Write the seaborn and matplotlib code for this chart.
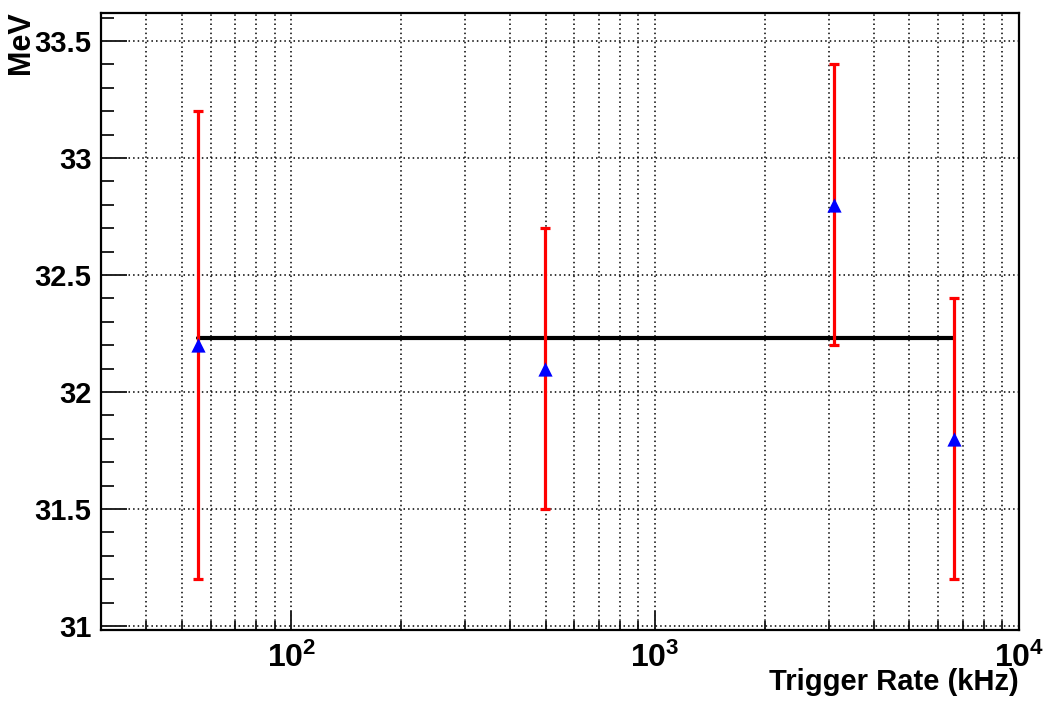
import matplotlib
matplotlib.use("Agg")
import matplotlib.pyplot as plt
import matplotlib.ticker as mticker
import seaborn as sns
import numpy as np
import pandas as pd

# Data
rates = [55.5, 497.0, 3110.0, 6640.0]          # kHz
energies = [32.2, 32.1, 32.8, 31.8]            # MeV
errors = [1.0, 0.6, 0.6, 0.6]                  # MeV
fit_value = 32.23
xlim = (30.0, 1.0e4)
ylim = (30.983, 33.62)
xlabel = "Trigger Rate (kHz)"
ylabel = "MeV"

sns.set_style("white")
plt.rcParams['font.family'] = ['Liberation Sans', 'DejaVu Sans']
plt.rcParams['font.weight'] = 'bold'
plt.rcParams['mathtext.fontset'] = 'custom'
plt.rcParams['mathtext.bf'] = 'Liberation Sans:bold'
plt.rcParams['mathtext.rm'] = 'Liberation Sans:bold'
plt.rcParams['text.color'] = 'black'
plt.rcParams['axes.labelcolor'] = 'black'
plt.rcParams['xtick.color'] = 'black'
plt.rcParams['ytick.color'] = 'black'

df = pd.DataFrame({"rate": rates, "energy": energies, "err": errors})
fit_df = pd.DataFrame({"rate": [rates[0], rates[-1]], "energy": [fit_value, fit_value]})

fig = plt.figure(figsize=(10.53, 7.02), dpi=100)
ax = fig.add_axes([101/1053, 1 - 630/702, (1019-101)/1053, (630-13)/702])

ax.set_xscale('log')
ax.set_xlim(*xlim)
ax.set_ylim(*ylim)

ax.xaxis.set_major_locator(mticker.LogLocator(base=10, numticks=10))
ax.xaxis.set_minor_locator(mticker.LogLocator(base=10, subs=np.arange(2, 10), numticks=20))
ax.xaxis.set_major_formatter(mticker.FuncFormatter(lambda v, p: r'$\mathbf{10^{%d}}$' % int(round(np.log10(v)))))
ax.xaxis.set_minor_formatter(mticker.NullFormatter())
ax.yaxis.set_major_locator(mticker.MultipleLocator(0.5))
ax.yaxis.set_minor_locator(mticker.MultipleLocator(0.1))
ax.yaxis.set_major_formatter(mticker.FuncFormatter(lambda v, p: ('%g' % round(v, 2))))

ax.grid(True, which='major', axis='both', color='black', linestyle=(0, (1, 2)), linewidth=1.1)
ax.grid(True, which='minor', axis='x', color='black', linestyle=(0, (1, 2)), linewidth=1.1)
ax.set_axisbelow(True)

# fit line
sns.lineplot(data=fit_df, x="rate", y="energy", ax=ax, color='black', linewidth=3, zorder=3)

# error bars
ax.errorbar(df["rate"], df["energy"], yerr=df["err"], fmt='none', ecolor='red',
            elinewidth=2.3, capsize=3.5, capthick=2.3, zorder=4)

# markers
sns.scatterplot(data=df, x="rate", y="energy", ax=ax, marker='^', s=105, color='blue',
                edgecolor='blue', linewidth=0, zorder=5)

for s in ax.spines.values():
    s.set_color('black')
    s.set_linewidth(1.6)

ax.tick_params(axis='both', which='both', direction='in', top=False, right=False,
               left=True, bottom=True, color='#222222', labelcolor='black', width=1.4)
ax.tick_params(axis='y', which='major', length=19, labelsize=21, pad=7)
ax.tick_params(axis='y', which='minor', length=9.5)
ax.tick_params(axis='x', which='major', length=14, labelsize=23, pad=9)
ax.tick_params(axis='x', which='minor', length=6.5)

for lbl in ax.get_yticklabels() + ax.get_xticklabels():
    lbl.set_fontweight('bold')

ax.set_xlabel(xlabel, fontsize=21, fontweight='bold', loc='right', color='black')
ax.xaxis.set_label_coords(1.0, -0.062)
ax.set_ylabel(ylabel, fontsize=22, fontweight='bold', color='black')
ax.yaxis.set_label_coords((36 - 101) / 918, (630 - 43) / 617)

fig.savefig("out.png", dpi=100, facecolor='white')
